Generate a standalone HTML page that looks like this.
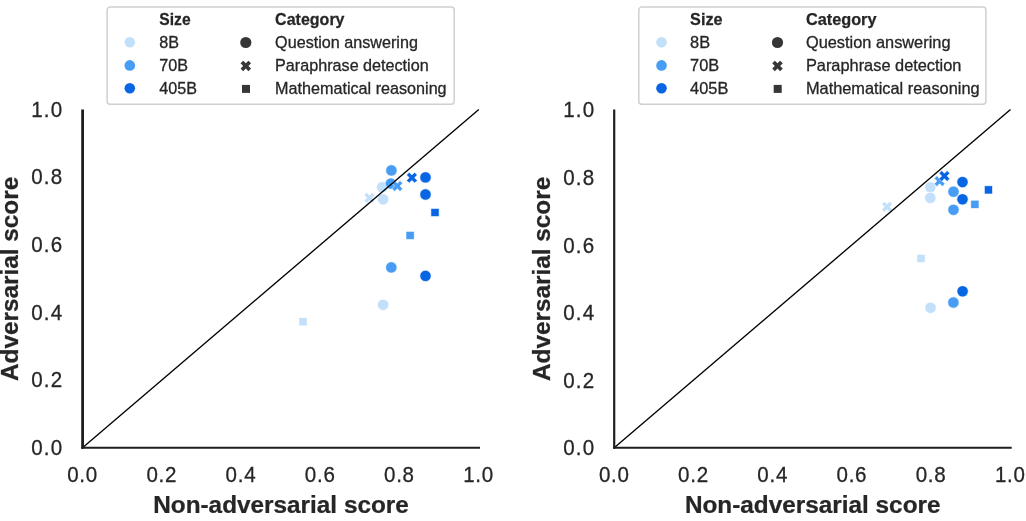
<!DOCTYPE html>
<html><head><meta charset="utf-8"><title>Adversarial vs non-adversarial score</title>
<style>
html,body{margin:0;padding:0;background:#fff;}
svg{display:block;font-family:'Liberation Sans', Arial, Helvetica, sans-serif;}
</style></head><body>
<svg width="1026" height="521" viewBox="0 0 1026 521">
<rect width="1026" height="521" fill="#fff"/>
<g>
<rect x="298.90" y="317.70" width="8.2" height="8.2" fill="#c3e0fb" stroke="#fff" stroke-width="0.6"/>
<circle cx="383.1" cy="304.8" r="5.65" fill="#c3e0fb" stroke="#fff" stroke-width="0.6"/>
<circle cx="382.2" cy="187.2" r="5.65" fill="#c3e0fb" stroke="#fff" stroke-width="0.6"/>
<circle cx="383.1" cy="199.3" r="5.65" fill="#c3e0fb" stroke="#fff" stroke-width="0.6"/>
<polygon points="364.10,195.20 366.80,192.50 369.50,195.20 372.20,192.50 374.90,195.20 372.20,197.90 374.90,200.60 372.20,203.30 369.50,200.60 366.80,203.30 364.10,200.60 366.80,197.90" fill="#c3e0fb" stroke="#fff" stroke-width="0.6" stroke-linejoin="miter"/>
<circle cx="391.4" cy="170.4" r="5.65" fill="#469df3" stroke="#fff" stroke-width="0.6"/>
<circle cx="390.9" cy="183.6" r="5.65" fill="#469df3" stroke="#fff" stroke-width="0.6"/>
<polygon points="391.90,183.30 394.60,180.60 397.30,183.30 400.00,180.60 402.70,183.30 400.00,186.00 402.70,188.70 400.00,191.40 397.30,188.70 394.60,191.40 391.90,188.70 394.60,186.00" fill="#469df3" stroke="#fff" stroke-width="0.6" stroke-linejoin="miter"/>
<circle cx="391.3" cy="267.4" r="5.65" fill="#469df3" stroke="#fff" stroke-width="0.6"/>
<rect x="406.00" y="231.30" width="8.2" height="8.2" fill="#469df3" stroke="#fff" stroke-width="0.6"/>
<polygon points="406.50,175.00 409.20,172.30 411.90,175.00 414.60,172.30 417.30,175.00 414.60,177.70 417.30,180.40 414.60,183.10 411.90,180.40 409.20,183.10 406.50,180.40 409.20,177.70" fill="#0866e4" stroke="#fff" stroke-width="0.6" stroke-linejoin="miter"/>
<circle cx="425.5" cy="177.4" r="5.65" fill="#0866e4" stroke="#fff" stroke-width="0.6"/>
<circle cx="425.5" cy="194.5" r="5.65" fill="#0866e4" stroke="#fff" stroke-width="0.6"/>
<circle cx="425.5" cy="275.9" r="5.65" fill="#0866e4" stroke="#fff" stroke-width="0.6"/>
<rect x="430.90" y="208.40" width="8.2" height="8.2" fill="#0866e4" stroke="#fff" stroke-width="0.6"/>
<line x1="82.8" y1="447.6" x2="478.8" y2="109.5" stroke="#000" stroke-width="1.35"/>
<line x1="82.60" y1="109.5" x2="82.60" y2="448.75" stroke="#1e1e1e" stroke-width="2.8"/>
<line x1="81.20" y1="447.70" x2="480.0" y2="447.70" stroke="#1e1e1e" stroke-width="2.1"/>
<text transform="translate(63.38,454.80) scale(0.91,1)" font-size="22.6" letter-spacing="1.3" font-weight="normal" text-anchor="end" fill="#262626" stroke="#262626" stroke-width="0.3">0.0</text>
<text transform="translate(82.56,482.10) scale(0.91,1)" font-size="22.6" letter-spacing="0.8" font-weight="normal" text-anchor="middle" fill="#262626" stroke="#262626" stroke-width="0.3">0.0</text>
<text transform="translate(63.38,387.18) scale(0.91,1)" font-size="22.6" letter-spacing="1.3" font-weight="normal" text-anchor="end" fill="#262626" stroke="#262626" stroke-width="0.3">0.2</text>
<text transform="translate(161.76,482.10) scale(0.91,1)" font-size="22.6" letter-spacing="0.8" font-weight="normal" text-anchor="middle" fill="#262626" stroke="#262626" stroke-width="0.3">0.2</text>
<text transform="translate(63.38,319.56) scale(0.91,1)" font-size="22.6" letter-spacing="1.3" font-weight="normal" text-anchor="end" fill="#262626" stroke="#262626" stroke-width="0.3">0.4</text>
<text transform="translate(240.96,482.10) scale(0.91,1)" font-size="22.6" letter-spacing="0.8" font-weight="normal" text-anchor="middle" fill="#262626" stroke="#262626" stroke-width="0.3">0.4</text>
<text transform="translate(63.38,251.94) scale(0.91,1)" font-size="22.6" letter-spacing="1.3" font-weight="normal" text-anchor="end" fill="#262626" stroke="#262626" stroke-width="0.3">0.6</text>
<text transform="translate(320.16,482.10) scale(0.91,1)" font-size="22.6" letter-spacing="0.8" font-weight="normal" text-anchor="middle" fill="#262626" stroke="#262626" stroke-width="0.3">0.6</text>
<text transform="translate(63.38,184.32) scale(0.91,1)" font-size="22.6" letter-spacing="1.3" font-weight="normal" text-anchor="end" fill="#262626" stroke="#262626" stroke-width="0.3">0.8</text>
<text transform="translate(399.36,482.10) scale(0.91,1)" font-size="22.6" letter-spacing="0.8" font-weight="normal" text-anchor="middle" fill="#262626" stroke="#262626" stroke-width="0.3">0.8</text>
<text transform="translate(63.38,116.70) scale(0.91,1)" font-size="22.6" letter-spacing="1.3" font-weight="normal" text-anchor="end" fill="#262626" stroke="#262626" stroke-width="0.3">1.0</text>
<text transform="translate(478.56,482.10) scale(0.91,1)" font-size="22.6" letter-spacing="0.8" font-weight="normal" text-anchor="middle" fill="#262626" stroke="#262626" stroke-width="0.3">1.0</text>
<text transform="translate(281.00,512.90) scale(0.994,1)" font-size="24.5" font-weight="bold" text-anchor="middle" fill="#262626" stroke="#262626" stroke-width="0.25">Non-adversarial score</text>
<text transform="translate(18.40,278.90) rotate(-90) scale(0.994,1)" font-size="24.5" font-weight="bold" text-anchor="middle" fill="#262626" stroke="#262626" stroke-width="0.25">Adversarial score</text>
<rect x="107.1" y="7.1" width="347.1" height="97.1" rx="3" ry="3" fill="#fff" stroke="#d0d0d0" stroke-width="1.5"/>
<text transform="translate(159.30,25.10) scale(0.96,1)" font-size="16.3" font-weight="bold" text-anchor="start" fill="#262626" stroke="#262626" stroke-width="0.25">Size</text>
<text transform="translate(275.10,25.10) scale(0.983,1)" font-size="16.3" font-weight="bold" text-anchor="start" fill="#262626" stroke="#262626" stroke-width="0.25">Category</text>
<circle cx="129.8" cy="42.3" r="5.3" fill="#c3e0fb" stroke="#fff" stroke-width="0"/>
<text transform="translate(159.30,48.00) scale(0.992,1)" font-size="16.3" font-weight="normal" text-anchor="start" fill="#262626" stroke="#262626" stroke-width="0.3">8B</text>
<circle cx="129.8" cy="65.4" r="5.3" fill="#469df3" stroke="#fff" stroke-width="0"/>
<text transform="translate(159.30,71.10) scale(0.992,1)" font-size="16.3" font-weight="normal" text-anchor="start" fill="#262626" stroke="#262626" stroke-width="0.3">70B</text>
<circle cx="129.8" cy="88.3" r="5.3" fill="#0866e4" stroke="#fff" stroke-width="0"/>
<text transform="translate(159.30,94.00) scale(0.992,1)" font-size="16.3" font-weight="normal" text-anchor="start" fill="#262626" stroke="#262626" stroke-width="0.3">405B</text>
<circle cx="245.8" cy="42.5" r="5.6" fill="#363636" stroke="#fff" stroke-width="0"/>
<polygon points="240.55,63.28 243.18,60.65 245.80,63.28 248.43,60.65 251.05,63.28 248.43,65.90 251.05,68.53 248.43,71.15 245.80,68.53 243.18,71.15 240.55,68.53 243.18,65.90" fill="#363636" stroke="#fff" stroke-width="0" stroke-linejoin="miter"/>
<rect x="242.00" y="84.90" width="8.0" height="8.0" fill="#363636" stroke="#fff" stroke-width="0"/>
<text transform="translate(275.10,48.00) scale(0.992,1)" font-size="16.3" font-weight="normal" text-anchor="start" fill="#262626" stroke="#262626" stroke-width="0.3">Question answering</text>
<text transform="translate(275.10,71.10) scale(0.992,1)" font-size="16.3" font-weight="normal" text-anchor="start" fill="#262626" stroke="#262626" stroke-width="0.3">Paraphrase detection</text>
<text transform="translate(275.10,94.00) scale(0.992,1)" font-size="16.3" font-weight="normal" text-anchor="start" fill="#262626" stroke="#262626" stroke-width="0.3">Mathematical reasoning</text>
</g>
<g>
<polygon points="881.70,204.10 884.40,201.40 887.10,204.10 889.80,201.40 892.50,204.10 889.80,206.80 892.50,209.50 889.80,212.20 887.10,209.50 884.40,212.20 881.70,209.50 884.40,206.80" fill="#c3e0fb" stroke="#fff" stroke-width="0.6" stroke-linejoin="miter"/>
<circle cx="930.3" cy="187.3" r="5.65" fill="#c3e0fb" stroke="#fff" stroke-width="0.6"/>
<circle cx="930.3" cy="197.9" r="5.65" fill="#c3e0fb" stroke="#fff" stroke-width="0.6"/>
<rect x="916.90" y="254.30" width="8.2" height="8.2" fill="#c3e0fb" stroke="#fff" stroke-width="0.6"/>
<circle cx="930.5" cy="307.8" r="5.65" fill="#c3e0fb" stroke="#fff" stroke-width="0.6"/>
<polygon points="934.20,178.40 936.90,175.70 939.60,178.40 942.30,175.70 945.00,178.40 942.30,181.10 945.00,183.80 942.30,186.50 939.60,183.80 936.90,186.50 934.20,183.80 936.90,181.10" fill="#469df3" stroke="#fff" stroke-width="0.6" stroke-linejoin="miter"/>
<circle cx="953.5" cy="191.7" r="5.65" fill="#469df3" stroke="#fff" stroke-width="0.6"/>
<circle cx="953.5" cy="209.8" r="5.65" fill="#469df3" stroke="#fff" stroke-width="0.6"/>
<rect x="970.80" y="200.20" width="8.2" height="8.2" fill="#469df3" stroke="#fff" stroke-width="0.6"/>
<circle cx="953.4" cy="302.5" r="5.65" fill="#469df3" stroke="#fff" stroke-width="0.6"/>
<polygon points="939.00,173.30 941.70,170.60 944.40,173.30 947.10,170.60 949.80,173.30 947.10,176.00 949.80,178.70 947.10,181.40 944.40,178.70 941.70,181.40 939.00,178.70 941.70,176.00" fill="#0866e4" stroke="#fff" stroke-width="0.6" stroke-linejoin="miter"/>
<circle cx="962.5" cy="182.1" r="5.65" fill="#0866e4" stroke="#fff" stroke-width="0.6"/>
<circle cx="962.5" cy="199.3" r="5.65" fill="#0866e4" stroke="#fff" stroke-width="0.6"/>
<rect x="984.30" y="185.80" width="8.2" height="8.2" fill="#0866e4" stroke="#fff" stroke-width="0.6"/>
<circle cx="962.6" cy="291.3" r="5.65" fill="#0866e4" stroke="#fff" stroke-width="0.6"/>
<line x1="614.5" y1="447.6" x2="1010.5" y2="109.5" stroke="#000" stroke-width="1.35"/>
<line x1="614.20" y1="109.5" x2="614.20" y2="448.75" stroke="#1e1e1e" stroke-width="2.2"/>
<line x1="613.10" y1="447.70" x2="1011.7" y2="447.70" stroke="#1e1e1e" stroke-width="2.1"/>
<text transform="translate(595.38,455.40) scale(0.91,1)" font-size="22.6" letter-spacing="1.3" font-weight="normal" text-anchor="end" fill="#262626" stroke="#262626" stroke-width="0.3">0.0</text>
<text transform="translate(614.26,482.10) scale(0.91,1)" font-size="22.6" letter-spacing="0.8" font-weight="normal" text-anchor="middle" fill="#262626" stroke="#262626" stroke-width="0.3">0.0</text>
<text transform="translate(595.38,387.78) scale(0.91,1)" font-size="22.6" letter-spacing="1.3" font-weight="normal" text-anchor="end" fill="#262626" stroke="#262626" stroke-width="0.3">0.2</text>
<text transform="translate(693.46,482.10) scale(0.91,1)" font-size="22.6" letter-spacing="0.8" font-weight="normal" text-anchor="middle" fill="#262626" stroke="#262626" stroke-width="0.3">0.2</text>
<text transform="translate(595.38,320.16) scale(0.91,1)" font-size="22.6" letter-spacing="1.3" font-weight="normal" text-anchor="end" fill="#262626" stroke="#262626" stroke-width="0.3">0.4</text>
<text transform="translate(772.66,482.10) scale(0.91,1)" font-size="22.6" letter-spacing="0.8" font-weight="normal" text-anchor="middle" fill="#262626" stroke="#262626" stroke-width="0.3">0.4</text>
<text transform="translate(595.38,252.54) scale(0.91,1)" font-size="22.6" letter-spacing="1.3" font-weight="normal" text-anchor="end" fill="#262626" stroke="#262626" stroke-width="0.3">0.6</text>
<text transform="translate(851.86,482.10) scale(0.91,1)" font-size="22.6" letter-spacing="0.8" font-weight="normal" text-anchor="middle" fill="#262626" stroke="#262626" stroke-width="0.3">0.6</text>
<text transform="translate(595.38,184.92) scale(0.91,1)" font-size="22.6" letter-spacing="1.3" font-weight="normal" text-anchor="end" fill="#262626" stroke="#262626" stroke-width="0.3">0.8</text>
<text transform="translate(931.06,482.10) scale(0.91,1)" font-size="22.6" letter-spacing="0.8" font-weight="normal" text-anchor="middle" fill="#262626" stroke="#262626" stroke-width="0.3">0.8</text>
<text transform="translate(595.38,117.30) scale(0.91,1)" font-size="22.6" letter-spacing="1.3" font-weight="normal" text-anchor="end" fill="#262626" stroke="#262626" stroke-width="0.3">1.0</text>
<text transform="translate(1010.26,482.10) scale(0.91,1)" font-size="22.6" letter-spacing="0.8" font-weight="normal" text-anchor="middle" fill="#262626" stroke="#262626" stroke-width="0.3">1.0</text>
<text transform="translate(812.70,512.90) scale(0.994,1)" font-size="24.5" font-weight="bold" text-anchor="middle" fill="#262626" stroke="#262626" stroke-width="0.25">Non-adversarial score</text>
<text transform="translate(550.10,278.90) rotate(-90) scale(0.994,1)" font-size="24.5" font-weight="bold" text-anchor="middle" fill="#262626" stroke="#262626" stroke-width="0.25">Adversarial score</text>
<rect x="638.8" y="7.1" width="347.1" height="97.1" rx="3" ry="3" fill="#fff" stroke="#d0d0d0" stroke-width="1.5"/>
<text transform="translate(690.10,25.10) scale(0.995,1)" font-size="16.3" font-weight="bold" text-anchor="start" fill="#262626" stroke="#262626" stroke-width="0.25">Size</text>
<text transform="translate(805.90,25.10) scale(1.0,1)" font-size="16.3" font-weight="bold" text-anchor="start" fill="#262626" stroke="#262626" stroke-width="0.25">Category</text>
<circle cx="661.5" cy="42.3" r="5.3" fill="#c3e0fb" stroke="#fff" stroke-width="0"/>
<text transform="translate(690.10,48.00) scale(1.004,1)" font-size="16.3" font-weight="normal" text-anchor="start" fill="#262626" stroke="#262626" stroke-width="0.3">8B</text>
<circle cx="661.5" cy="65.4" r="5.3" fill="#469df3" stroke="#fff" stroke-width="0"/>
<text transform="translate(690.10,71.10) scale(1.004,1)" font-size="16.3" font-weight="normal" text-anchor="start" fill="#262626" stroke="#262626" stroke-width="0.3">70B</text>
<circle cx="661.5" cy="88.3" r="5.3" fill="#0866e4" stroke="#fff" stroke-width="0"/>
<text transform="translate(690.10,94.00) scale(1.004,1)" font-size="16.3" font-weight="normal" text-anchor="start" fill="#262626" stroke="#262626" stroke-width="0.3">405B</text>
<circle cx="777.5" cy="42.5" r="5.6" fill="#363636" stroke="#fff" stroke-width="0"/>
<polygon points="772.25,63.28 774.88,60.65 777.50,63.28 780.12,60.65 782.75,63.28 780.12,65.90 782.75,68.53 780.12,71.15 777.50,68.53 774.88,71.15 772.25,68.53 774.88,65.90" fill="#363636" stroke="#fff" stroke-width="0" stroke-linejoin="miter"/>
<rect x="773.70" y="84.90" width="8.0" height="8.0" fill="#363636" stroke="#fff" stroke-width="0"/>
<text transform="translate(805.90,48.00) scale(1.004,1)" font-size="16.3" font-weight="normal" text-anchor="start" fill="#262626" stroke="#262626" stroke-width="0.3">Question answering</text>
<text transform="translate(805.90,71.10) scale(1.004,1)" font-size="16.3" font-weight="normal" text-anchor="start" fill="#262626" stroke="#262626" stroke-width="0.3">Paraphrase detection</text>
<text transform="translate(805.90,94.00) scale(1.004,1)" font-size="16.3" font-weight="normal" text-anchor="start" fill="#262626" stroke="#262626" stroke-width="0.3">Mathematical reasoning</text>
</g>
</svg>
</body></html>
